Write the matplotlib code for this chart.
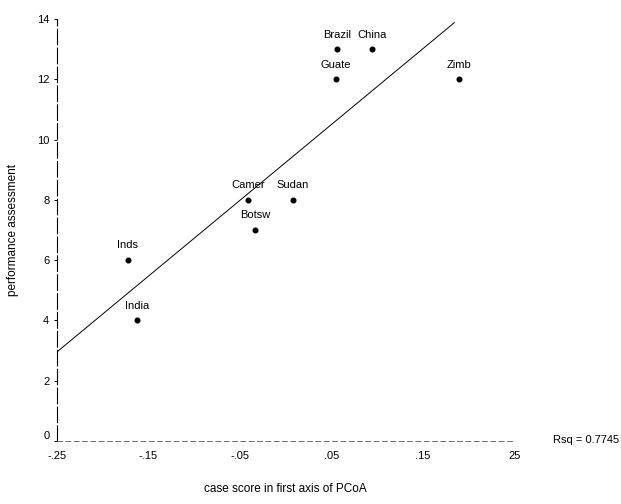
import numpy as np
import matplotlib
matplotlib.use("Agg")
import matplotlib.pyplot as plt

plt.rcParams['font.family'] = ['Liberation Sans', 'DejaVu Sans']

countries = ["Inds", "India", "Camer", "Botsw", "Sudan", "Guate", "Brazil", "China", "Zimb"]
case_score = [-0.1725, -0.163, -0.0415, -0.0338, 0.0076, 0.0546, 0.0557, 0.0939, 0.189]
performance = [6, 4, 8, 7, 8, 12, 13, 13, 12]
x_ticks = [-0.25, -0.15, -0.05, 0.05, 0.15, 0.25]
x_tick_labels = ["-.25", "-.15", "-.05", ".05", ".15", "25"]
y_ticks = [0, 2, 4, 6, 8, 10, 12, 14]
rsq_text = "Rsq = 0.7745"

x = np.array(case_score)
y = np.array(performance)
slope, intercept = np.polyfit(x, y, 1)

fig = plt.figure(figsize=(6.21, 5.04), dpi=100)
ax = fig.add_axes([0.0918, 0.125, 0.737, 0.837])

ax.scatter(x, y, s=11, color='black', zorder=3)
for c, xi, yi in zip(countries, x, y):
    ax.annotate(c, (xi, yi), xytext=(0, 7), textcoords='offset points',
                ha='center', va='bottom', fontsize=8)

xl = np.array([-0.25, 0.184])
ax.plot(xl, slope * xl + intercept, color='black', lw=0.7)

ax.set_xlim(-0.25, 0.25)
ax.set_ylim(0, 14)
ax.set_xticks(x_ticks)
ax.set_xticklabels(x_tick_labels, fontsize=8)
ax.set_yticks(y_ticks)
ax.set_yticklabels([str(v) for v in y_ticks], fontsize=8)
ax.tick_params(axis='x', length=0, pad=7)
ax.tick_params(axis='y', length=2.5, width=0.7, pad=3)
ax.get_yticklabels()[0].set_verticalalignment('bottom')

for s in ['top', 'right']:
    ax.spines[s].set_visible(False)
ax.spines['left'].set_linewidth(0.8)
ax.spines['left'].set_linestyle((0, (14, 3)))
ax.spines['bottom'].set_linewidth(0.6)
ax.spines['bottom'].set_color('#555555')
ax.spines['bottom'].set_linestyle((0, (6, 4)))

ax.set_xlabel("case score in first axis of PCoA", fontsize=8.5, labelpad=16)
ax.set_ylabel("performance assessment", fontsize=8.5, labelpad=13)

fig.text(0.89, 0.127, rsq_text, fontsize=8, va='center', ha='left')

fig.savefig("out.png", dpi=100)
